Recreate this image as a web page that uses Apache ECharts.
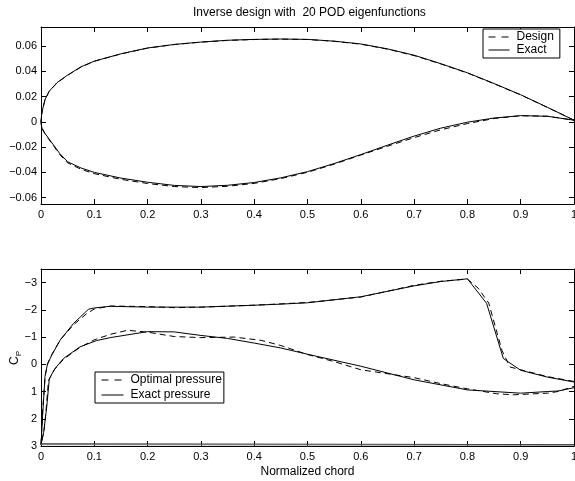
<!DOCTYPE html>
<html>
<head>
<meta charset="utf-8">
<script src="https://cdn.jsdelivr.net/npm/echarts@6/dist/echarts.min.js"></script>
<style>
  html, body { margin: 0; padding: 0; background: #fff; }
  #chart { width: 575px; height: 481px; }
</style>
</head>
<body>
<div id="chart"></div>
<script>
// airfoil geometry, [x/c, y/c]
let exactUpper = [[0,0],[0.001,0.0055],[0.0025,0.009],[0.0075,0.0175],[0.015,0.024],[0.03,0.031],[0.05,0.037],[0.075,0.0435],[0.1,0.048],[0.15,0.0538],[0.2,0.0584],[0.25,0.0612],[0.3,0.0631],[0.35,0.0645],[0.4,0.0652],[0.45,0.0655],[0.5,0.0652],[0.55,0.0638],[0.6,0.0616],[0.65,0.0577],[0.7,0.0527],[0.75,0.046],[0.8,0.0388],[0.85,0.0303],[0.9,0.0214],[0.95,0.0115],[1,0.0013]];
let exactLower = [[0,0],[0.001,-0.0035],[0.0025,-0.0055],[0.0075,-0.0092],[0.015,-0.0135],[0.025,-0.0192],[0.035,-0.025],[0.05,-0.0316],[0.075,-0.0365],[0.1,-0.040],[0.15,-0.0445],[0.2,-0.0478],[0.25,-0.0503],[0.3,-0.0512],[0.35,-0.0502],[0.4,-0.048],[0.45,-0.0443],[0.5,-0.0394],[0.55,-0.033],[0.6,-0.0259],[0.65,-0.0185],[0.7,-0.0113],[0.75,-0.005],[0.8,-0.0003],[0.85,0.003],[0.9,0.0049],[0.95,0.0044],[1,0.0013]];
let designUpper = [[0,0],[0.001,0.0054],[0.0025,0.0088],[0.0075,0.0173],[0.015,0.0238],[0.03,0.0308],[0.05,0.0368],[0.075,0.0433],[0.1,0.0479],[0.15,0.0537],[0.2,0.0583],[0.25,0.0611],[0.3,0.063],[0.35,0.0644],[0.4,0.0651],[0.45,0.0654],[0.5,0.0651],[0.55,0.0637],[0.6,0.0614],[0.65,0.0575],[0.7,0.0524],[0.75,0.0458],[0.8,0.0386],[0.85,0.0301],[0.9,0.0213],[0.95,0.0114],[1,0.0013]];
let designLower = [[0,0],[0.001,-0.0036],[0.0025,-0.0057],[0.0075,-0.0095],[0.015,-0.014],[0.025,-0.0198],[0.035,-0.0258],[0.05,-0.0325],[0.075,-0.0375],[0.1,-0.041],[0.15,-0.0455],[0.2,-0.0488],[0.25,-0.0512],[0.3,-0.052],[0.35,-0.051],[0.4,-0.0487],[0.45,-0.0449],[0.5,-0.0399],[0.55,-0.0335],[0.6,-0.0263],[0.65,-0.0193],[0.7,-0.0125],[0.75,-0.0063],[0.8,-0.0014],[0.85,0.0026],[0.9,0.0048],[0.95,0.0044],[1,0.0013]];

// pressure coefficient, [x/c, Cp]
let exactCpUpper = [[0,2.95],[0.003,1.9],[0.0075,0.45],[0.012,0.0],[0.02,-0.33],[0.036,-0.89],[0.061,-1.5],[0.089,-2.02],[0.1,-2.07],[0.13,-2.13],[0.2,-2.1],[0.3,-2.1],[0.4,-2.17],[0.45,-2.21],[0.5,-2.26],[0.6,-2.48],[0.7,-2.88],[0.75,-3.04],[0.8,-3.14],[0.836,-2.24],[0.8675,-0.21],[0.9,0.22],[0.95,0.47],[1,0.65]];
let exactCpLower = [[0,2.95],[0.005,2.5],[0.0107,1.58],[0.0156,0.53],[0.026,0.16],[0.042,-0.21],[0.073,-0.64],[0.104,-0.87],[0.13,-0.98],[0.2,-1.2],[0.25,-1.19],[0.3,-1.06],[0.35,-0.95],[0.4,-0.78],[0.45,-0.6],[0.5,-0.37],[0.6,0.07],[0.7,0.57],[0.8,0.94],[0.9,1.06],[0.95,1.0],[0.97,0.98],[1,0.86]];
let optimalCpUpper = [[0,2.95],[0.003,1.7],[0.008,0.4],[0.013,-0.05],[0.02,-0.35],[0.036,-0.9],[0.061,-1.45],[0.085,-1.85],[0.1,-2.03],[0.13,-2.14],[0.2,-2.12],[0.25,-2.08],[0.3,-2.1],[0.4,-2.17],[0.5,-2.27],[0.6,-2.47],[0.7,-2.9],[0.75,-3.05],[0.8,-3.13],[0.82,-2.8],[0.84,-2.25],[0.865,-0.5],[0.88,0.1],[0.9,0.2],[0.95,0.45],[1,0.63]];
let optimalCpLower = [[0,2.95],[0.006,2.4],[0.009,1.8],[0.014,0.6],[0.025,0.2],[0.042,-0.18],[0.073,-0.62],[0.1,-0.9],[0.13,-1.1],[0.162,-1.25],[0.2,-1.18],[0.25,-1.02],[0.3,-0.98],[0.363,-1.0],[0.413,-0.88],[0.45,-0.69],[0.5,-0.36],[0.55,-0.1],[0.6,0.2],[0.7,0.49],[0.75,0.71],[0.8,0.9],[0.855,1.08],[0.886,1.12],[0.95,1.06],[0.97,1.0],[1,0.81]];
let cpClosureA = [[0,2.92],[1,2.95]];
let cpClosureB = [[0,2.95],[1,2.97]];

let chordTicks = [0,0.1,0.2,0.3,0.4,0.5,0.6,0.7,0.8,0.9,1];
let shapeTicks = [-0.06,-0.04,-0.02,0,0.02,0.04,0.06];
let cpTicks = [-3,-2,-1,0,1,2,3];

const FONT = 'Liberation Sans, Arial, Helvetica, sans-serif';
const dash = [6,4];
const legendDash = [7,6];

function loop(upper, lower) {
    // trailing edge -> leading edge along upper, then back along lower
    return upper.slice().reverse().concat(lower.slice(1));
}
function minus(v, d) {
    if (v === 0) return '0';
    return (v < 0 ? '\u2212' : '') + Math.abs(v).toFixed(d);
}

function xAx(grid, pos, labels, extra) {
    return Object.assign({
        type: 'value', gridIndex: grid, position: pos, min: 0, max: 1, interval: 0.1,
        axisLine: { show: true, onZero: false, lineStyle: { color: '#000', width: 1 } },
        axisTick: { show: true, inside: true, length: 5, customValues: chordTicks, lineStyle: { color: '#000' } },
        axisLabel: { show: labels, color: '#000', fontSize: 11, fontFamily: FONT, margin: 5,
            customValues: chordTicks, formatter: v => String(Math.round(v * 10) / 10) },
        splitLine: { show: false }
    }, extra || {});
}
function yAx(grid, pos, labels, min, max, ticks, fmt, extra) {
    return Object.assign({
        type: 'value', gridIndex: grid, position: pos, min: min, max: max,
        axisLine: { show: true, onZero: false, lineStyle: { color: '#000', width: 1 } },
        axisTick: { show: true, inside: true, length: 5, customValues: ticks, lineStyle: { color: '#000' } },
        axisLabel: { show: labels, color: '#000', fontSize: 11, fontFamily: FONT, margin: 4,
            customValues: ticks, formatter: fmt },
        splitLine: { show: false }
    }, extra || {});
}

let legendBase = {
    orient: 'vertical',
    backgroundColor: '#fff', borderColor: '#000', borderWidth: 1,
    itemStyle: { opacity: 0 },
    lineStyle: { width: 1, color: '#000' },
    textStyle: { fontSize: 12, color: '#000', fontFamily: FONT, padding: [0, 0, 0, 2] }
};

let chart = echarts.init(document.getElementById('chart'));
let option = {
    animation: false,
    backgroundColor: '#fff',
    title: {
        text: 'Inverse design with  20 POD eigenfunctions',
        left: 193, top: 7, padding: 0,
        textStyle: { fontSize: 12, fontWeight: 'normal', color: '#000', fontFamily: FONT }
    },
    grid: [
        { left: 41, right: 1, top: 27, height: 177, outerBoundsMode: 'none' },
        { left: 41, right: 1, top: 269, height: 177, outerBoundsMode: 'none' }
    ],
    legend: [
        Object.assign({}, legendBase, {
            data: [{ name: 'Design', lineStyle: { type: legendDash } }, { name: 'Exact', lineStyle: { type: 'solid' } }],
            left: 483, top: 29,
            padding: [2, 6, 2, 5], itemGap: 1, itemWidth: 21, itemHeight: 12
        }),
        Object.assign({}, legendBase, {
            data: [{ name: 'Optimal pressure', lineStyle: { type: legendDash } }, { name: 'Exact pressure', lineStyle: { type: 'solid' } }],
            left: 95, top: 372,
            padding: [2, 2, 2, 6], itemGap: 3, itemWidth: 22, itemHeight: 12
        })
    ],
    graphic: [
        {
            type: 'text', x: 15, y: 358, rotation: Math.PI / 2,
            style: {
                text: '{c|C}{p|P}', align: 'center', verticalAlign: 'middle',
                rich: {
                    c: { fontSize: 12, fontFamily: FONT, fill: '#000' },
                    p: { fontSize: 8, fontFamily: FONT, fill: '#000', padding: [7, 0, 0, 0] }
                }
            }
        }
    ],
    xAxis: [
        xAx(0, 'bottom', true),
        xAx(0, 'top', false),
        xAx(1, 'bottom', true, {
            name: 'Normalized chord', nameLocation: 'middle', nameGap: 20,
            nameTextStyle: { fontSize: 12, color: '#000', fontFamily: FONT }
        }),
        xAx(1, 'top', false)
    ],
    yAxis: [
        yAx(0, 'left', true, -0.065, 0.075, shapeTicks, v => minus(v, 2)),
        yAx(0, 'right', false, -0.065, 0.075, shapeTicks, null),
        yAx(1, 'left', true, -3.5, 3, cpTicks, v => minus(v, 0), { inverse: true }),
        yAx(1, 'right', false, -3.5, 3, cpTicks, null, { inverse: true })
    ],
    series: [
        { name: 'Design', type: 'line', xAxisIndex: 0, yAxisIndex: 0, data: loop(designUpper, designLower),
          showSymbol: false, symbol: 'none', silent: true,
          lineStyle: { color: '#000', width: 1, type: dash }, itemStyle: { color: '#000' } },
        { name: 'Exact', type: 'line', xAxisIndex: 0, yAxisIndex: 0, data: loop(exactUpper, exactLower),
          showSymbol: false, symbol: 'none', silent: true,
          lineStyle: { color: '#000', width: 1 }, itemStyle: { color: '#000' } },
        { name: 'Optimal pressure', type: 'line', xAxisIndex: 2, yAxisIndex: 2, data: loop(optimalCpUpper, optimalCpLower),
          showSymbol: false, symbol: 'none', silent: true,
          lineStyle: { color: '#000', width: 1, type: dash }, itemStyle: { color: '#000' } },
        { name: 'Exact pressure', type: 'line', xAxisIndex: 2, yAxisIndex: 2, data: loop(exactCpUpper, exactCpLower),
          showSymbol: false, symbol: 'none', silent: true,
          lineStyle: { color: '#000', width: 1 }, itemStyle: { color: '#000' } },
        { name: 'closureA', type: 'line', xAxisIndex: 2, yAxisIndex: 2, data: cpClosureA,
          showSymbol: false, symbol: 'none', silent: true,
          lineStyle: { color: '#222', width: 1 } },
        { name: 'closureB', type: 'line', xAxisIndex: 2, yAxisIndex: 2, data: cpClosureB,
          showSymbol: false, symbol: 'none', silent: true,
          lineStyle: { color: '#777', width: 1 } }
    ]
};
chart.setOption(option);
</script>
</body>
</html>
